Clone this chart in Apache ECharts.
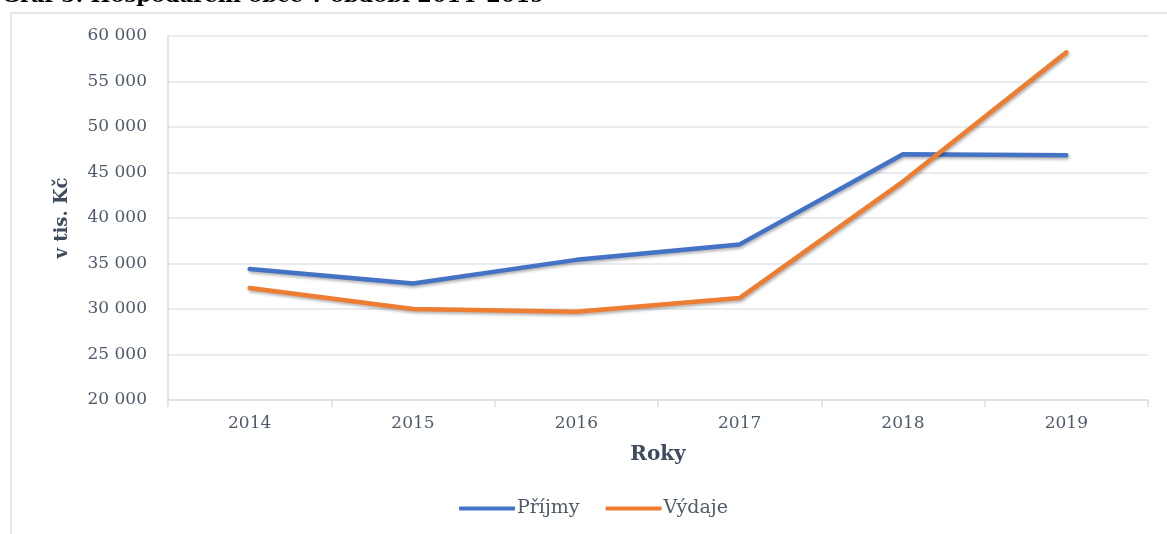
<!DOCTYPE html>
<html lang="cs">
<head>
  <meta charset="UTF-8" />
  <title>Hospodaření obce v období 2014–2019</title>
  <script src="https://cdn.jsdelivr.net/npm/echarts@6/dist/echarts.min.js"></script>
  <style>
    html, body { margin: 0; padding: 0; background: #fff; }
    #chart { width: 1167px; height: 534px; }
  </style>
</head>
<body>
  <div id="chart"></div>
  <script>
    // data (v tis. Kč)
    var years = ['2014', '2015', '2016', '2017', '2018', '2019'];
    var prijmy = [34400, 32800, 35400, 37100, 47000, 46900];
    var vydaje = [32300, 30000, 29700, 31200, 44000, 58200];
    var seriesNames = ['Příjmy', 'Výdaje'];
    var colors = ['#4472C4', '#ED7D31'];

    var SERIF = '"DejaVu Serif", "Liberation Serif", serif';
    var LABEL_COLOR = '#4f5b6b';
    var NAME_COLOR = '#3e4b5e';

    function fmtThousands(v) {
      return String(v).replace(/\B(?=(\d{3})+(?!\d))/g, ' ');
    }

    function lineSeries(name, data, color) {
      return {
        name: name,
        type: 'line',
        data: data,
        symbol: 'none',
        lineStyle: {
          width: 4.5,
          color: color,
          cap: 'round',
          join: 'round',
          shadowColor: 'rgba(0,0,0,0.3)',
          shadowBlur: 3,
          shadowOffsetX: 1,
          shadowOffsetY: 2
        },
        itemStyle: { color: color }
      };
    }

    var chart = echarts.init(document.getElementById('chart'), null, { renderer: 'canvas' });
    chart.setOption({
      animation: false,
      textStyle: { fontFamily: SERIF },
      graphic: [
        {
          type: 'rect',
          shape: { x: 11, y: 13, width: 1200, height: 560 },
          style: { fill: 'none', stroke: '#d9dde3', lineWidth: 1.5 },
          silent: true
        },
        {
          type: 'text',
          x: 2,
          y: 7,
          style: {
            text: 'Graf 5: Hospodaření obce v období 2014–2019',
            font: 'bold 21px ' + SERIF,
            fill: '#000',
            textVerticalAlign: 'bottom'
          },
          silent: true
        }
      ],
      grid: { left: 168, right: 19, top: 36, bottom: 134 },
      legend: {
        data: seriesNames,
        bottom: 11,
        left: 454,
        itemWidth: 56,
        itemHeight: 4,
        itemGap: 26,
        icon: 'roundRect',
        textStyle: { fontFamily: SERIF, fontSize: 19, color: LABEL_COLOR, padding: [0, 0, 0, -3] }
      },
      xAxis: {
        type: 'category',
        data: years,
        boundaryGap: true,
        name: 'Roky',
        nameLocation: 'middle',
        nameGap: 45,
        nameTextStyle: { fontFamily: SERIF, fontSize: 20, fontWeight: 'bold', color: NAME_COLOR },
        axisLine: { lineStyle: { color: '#d9dde3', width: 1.5 } },
        axisTick: { show: true, length: 7, lineStyle: { color: '#d9dde3', width: 1.5 } },
        axisLabel: { margin: 15, fontFamily: SERIF, fontSize: 17, color: LABEL_COLOR },
        splitLine: { show: false }
      },
      yAxis: {
        type: 'value',
        min: 20000,
        max: 60000,
        interval: 5000,
        name: 'v tis. Kč',
        nameLocation: 'middle',
        nameGap: 97,
        nameRotate: 90,
        nameTextStyle: { fontFamily: SERIF, fontSize: 18, fontWeight: 'bold', color: NAME_COLOR },
        axisLine: { show: true, lineStyle: { color: '#d9dde3', width: 1.5 } },
        axisTick: { show: false },
        axisLabel: { margin: 21, fontFamily: SERIF, fontSize: 17, color: LABEL_COLOR, formatter: fmtThousands },
        splitLine: { lineStyle: { color: '#e1e5eb', width: 1.5 } }
      },
      series: [
        lineSeries(seriesNames[0], prijmy, colors[0]),
        lineSeries(seriesNames[1], vydaje, colors[1])
      ]
    });
  </script>
</body>
</html>
